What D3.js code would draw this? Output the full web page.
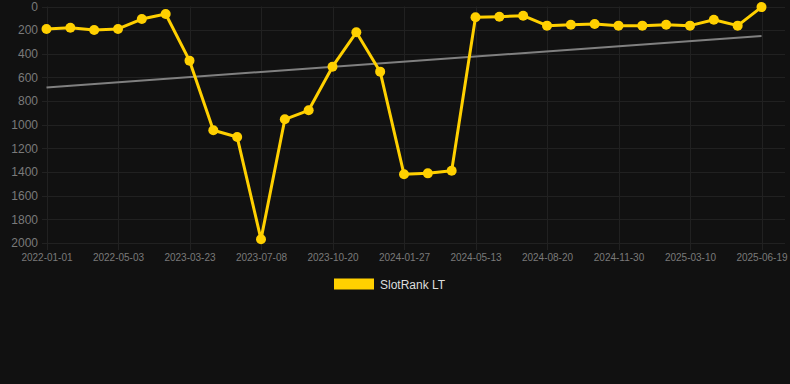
<!DOCTYPE html>
<html>
<head>
<meta charset="utf-8">
<script src="https://cdn.jsdelivr.net/npm/d3@7"></script>
<style>
  html, body { margin: 0; padding: 0; background: #111111; }
  svg { display: block; font-family: "Liberation Sans", Arial, sans-serif; }
</style>
</head>
<body>
<div class="chart"></div>
<script>
// dates of each ranking point (only every 3rd one is shown as a tick)
let dates = [
    "2022-01-01", "2022-02-10", "2022-03-22", "2022-05-03", "2022-08-15", "2022-12-01",
    "2023-03-23", "2023-05-01", "2023-06-05", "2023-07-08", "2023-08-12", "2023-09-15",
    "2023-10-20", "2023-11-22", "2023-12-25", "2024-01-27", "2024-03-01", "2024-04-05",
    "2024-05-13", "2024-06-18", "2024-07-20", "2024-08-20", "2024-09-25", "2024-10-28",
    "2024-11-30", "2024-12-30", "2025-02-05", "2025-03-10", "2025-04-12", "2025-05-16",
    "2025-06-19"
];
let rankLT = [
    190, 179, 199, 190, 106, 63,
    458, 1047, 1104, 1969, 954, 878,
    509, 218, 551, 1419, 1411, 1389,
    91, 86, 78, 162, 154, 148,
    162, 162, 154, 162, 112, 162,
    5
];
let yTicks = [0, 200, 400, 600, 800, 1000, 1200, 1400, 1600, 1800, 2000];
let seriesName = "SlotRank LT";

let W = 790, H = 384;
let plotLeft = 42, plotRight = 785, plotTop = 6.5, plotBottom = 243;

let svg = d3.select(".chart")
    .append("svg")
    .attr("width", W)
    .attr("height", H)

svg.append("rect").attr("width", W).attr("height", H).attr("fill", "#111111")

let x = d3.scalePoint()
    .domain(dates)
    .range([46.5, 761.5])

let y = d3.scaleLinear()
    .domain([0, 2000])
    .range([plotTop, plotBottom])

let tickDates = dates.filter((d, i) => i % 3 === 0)

// grid
svg.append("g")
    .selectAll("line")
    .data(yTicks)
    .enter()
    .append("line")
    .attr("x1", plotLeft)
    .attr("x2", plotRight)
    .attr("y1", d => Math.round(y(d)) + 0.5)
    .attr("y2", d => Math.round(y(d)) + 0.5)
    .attr("stroke", "#212121")
    .attr("stroke-width", 1)

svg.append("g")
    .selectAll("line")
    .data(tickDates)
    .enter()
    .append("line")
    .attr("x1", d => Math.round(x(d)) + 0.5)
    .attr("x2", d => Math.round(x(d)) + 0.5)
    .attr("y1", plotTop)
    .attr("y2", plotBottom + 7)
    .attr("stroke", "#212121")
    .attr("stroke-width", 1)

// y axis labels
let yAxis = d3.axisLeft(y).tickValues(yTicks).tickFormat(d3.format("d")).tickSize(0).tickPadding(0)
let gy = svg.append("g")
    .attr("transform", "translate(" + 38 + ",0)")
    .call(yAxis)
gy.select(".domain").remove()
gy.selectAll("text")
    .attr("fill", "#7a7a7a")
    .attr("font-size", 12)
    .attr("font-family", "Liberation Sans, Arial, sans-serif")

// x axis labels
let xAxis = d3.axisBottom(x).tickValues(tickDates).tickSize(0).tickPadding(0)
let gx = svg.append("g")
    .attr("transform", "translate(0," + 254 + ")")
    .call(xAxis)
gx.select(".domain").remove()
gx.selectAll("text")
    .attr("fill", "#7a7a7a")
    .attr("font-size", 10)
    .attr("font-family", "Liberation Sans, Arial, sans-serif")

// trend line (least squares over the series)
let n = rankLT.length
let mx = d3.mean(rankLT, (d, i) => i)
let my = d3.mean(rankLT)
let sxy = d3.sum(rankLT, (d, i) => (i - mx) * (d - my))
let sxx = d3.sum(rankLT, (d, i) => (i - mx) * (i - mx))
let slope = sxy / sxx
let trend = [0, n - 1].map(i => ({ i: i, v: my + slope * (i - mx) }))

svg.append("path")
    .datum(trend)
    .attr("fill", "none")
    .attr("stroke", "#808080")
    .attr("stroke-width", 2)
    .attr("d", d3.line().x(d => x(dates[d.i])).y(d => y(d.v)))

// series
let line = d3.line()
    .x((d, i) => x(dates[i]))
    .y(d => y(d))

svg.append("path")
    .datum(rankLT)
    .attr("fill", "none")
    .attr("stroke", "#ffd000")
    .attr("stroke-width", 3)
    .attr("stroke-linejoin", "round")
    .attr("d", line)

svg.append("g")
    .selectAll("circle")
    .data(rankLT)
    .enter()
    .append("circle")
    .attr("cx", (d, i) => x(dates[i]))
    .attr("cy", d => y(d))
    .attr("r", 5)
    .attr("fill", "#ffd000")

// legend
svg.append("rect")
    .attr("x", 334)
    .attr("y", 278.5)
    .attr("width", 40)
    .attr("height", 11)
    .attr("fill", "#ffd000")

svg.append("text")
    .attr("x", 380)
    .attr("y", 289)
    .attr("fill", "#dddddd")
    .attr("font-size", 12)
    .attr("font-family", "Liberation Sans, Arial, sans-serif")
    .text(seriesName)
</script>
</body>
</html>
